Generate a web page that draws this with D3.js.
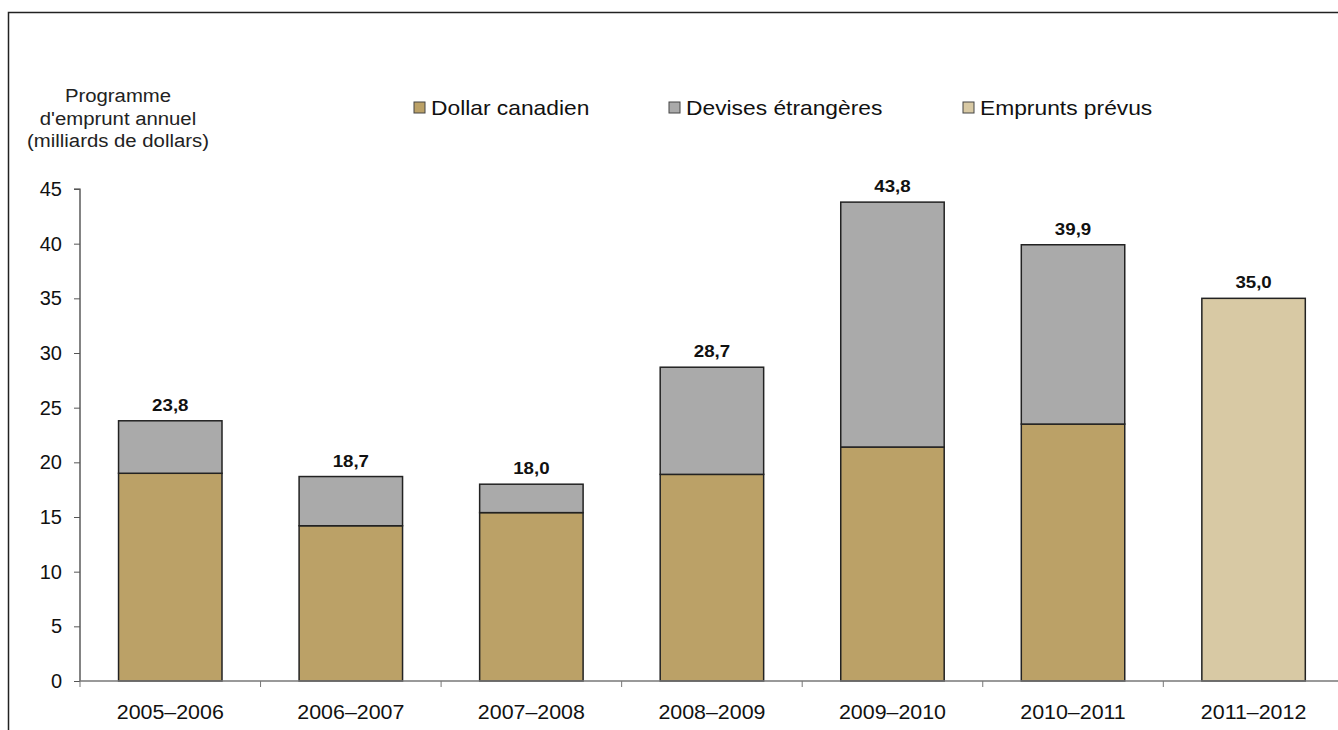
<!DOCTYPE html>
<html><head><meta charset="utf-8">
<script src="https://cdn.jsdelivr.net/npm/d3@7"></script>
<style>body{margin:0;background:#fff}svg{display:block;font-family:"Liberation Sans",Arial,sans-serif}</style>
</head><body>
<script>
const categories = ["2005–2006","2006–2007","2007–2008","2008–2009","2009–2010","2010–2011","2011–2012"];
const canadianDollar = [19.0, 14.2, 15.4, 18.9, 21.4, 23.5, 0];
const foreignCurrency = [4.8, 4.5, 2.6, 9.8, 22.4, 16.4, 0];
const plannedBorrowing = [0, 0, 0, 0, 0, 0, 35.0];
const totalLabels = ["23,8","18,7","18,0","28,7","43,8","39,9","35,0"];
const yTicks = [0,5,10,15,20,25,30,35,40,45];
const seriesNames = ["Dollar canadien","Devises étrangères","Emprunts prévus"];
const colors = ["#BBA167","#AAAAAA","#D8C9A4"];

const W = 1338, H = 730;
const svg = d3.select("body").append("svg").attr("width", W).attr("height", H);
svg.append("rect").attr("width", W).attr("height", H).attr("fill", "#fff");

// frame
svg.append("path").attr("d", `M8.5,${H} V12.5 H${W}`).attr("fill","none").attr("stroke","#222").attr("stroke-width",1.5);

const x0 = 80, step = 180.55;
const x = d3.scaleBand().domain(categories).range([x0, x0 + step*categories.length]).padding(0);
const y = d3.scaleLinear().domain([0,45]).range([681,189]);
const bw = x.bandwidth()*0.573;

const stacks = categories.map((c,i)=>{
  const segs = [];
  let base = 0;
  [canadianDollar[i], foreignCurrency[i], plannedBorrowing[i]].forEach((v,k)=>{
    if (v>0){ segs.push({c, k, y0:base, y1:base+v}); base += v; }
  });
  return {c, segs, total: base, label: totalLabels[i]};
});

// bars
const g = svg.append("g");
stacks.forEach(s=>{
  g.selectAll(null).data(s.segs).enter().append("rect")
    .attr("x", x(s.c) + (x.bandwidth()-bw)/2)
    .attr("width", bw)
    .attr("y", d=>y(d.y1))
    .attr("height", d=>y(d.y0)-y(d.y1))
    .attr("fill", d=>colors[d.k])
    .attr("stroke", "#222").attr("stroke-width", 1.5);
});

// value labels
svg.selectAll(".vl").data(stacks).enter().append("text")
  .attr("transform", d=>`translate(${x(d.c)+x.bandwidth()/2},${y(d.total)-10}) scale(1.1,1)`)
  .attr("text-anchor","middle").attr("font-weight","bold").attr("font-size",17).attr("fill","#111")
  .text(d=>d.label);

// y axis
const yAxis = d3.axisLeft(y).tickValues(yTicks).tickSize(6).tickPadding(12).tickFormat(d3.format("d"));
const ya = svg.append("g").attr("transform",`translate(${x0},0)`).call(yAxis);
ya.select(".domain").attr("stroke","#333").attr("stroke-width",1.2).attr("d",`M-6,${y(45)}H0V${y(0)}`);
ya.selectAll(".tick line").attr("stroke","#555");
ya.selectAll(".tick text").attr("font-size",20).attr("fill","#111").attr("font-family","Liberation Sans, Arial, sans-serif");

// x axis
const xa = svg.append("g").attr("transform",`translate(0,${y(0)})`);
xa.append("line").attr("x1",x0).attr("x2",W).attr("y1",0).attr("y2",0).attr("stroke","#777").attr("stroke-width",1.5);
const bounds = d3.range(categories.length+1).map(i=>x0 + i*x.step());
xa.selectAll(".xt").data(bounds).enter().append("line")
  .attr("x1",d=>d).attr("x2",d=>d).attr("y1",0).attr("y2",6).attr("stroke","#777");
xa.selectAll(".xl").data(categories).enter().append("text")
  .attr("transform",d=>`translate(${x(d)+x.bandwidth()/2},38) scale(1.07,1)`)
  .attr("text-anchor","middle").attr("font-size",20).attr("fill","#111").text(d=>d);

// axis title
const tl = ["Programme","d'emprunt annuel","(milliards de dollars)"];
svg.selectAll(".at").data(tl).enter().append("text")
  .attr("transform",(d,i)=>`translate(118,${102+i*22.5}) scale(1.13,1)`).attr("text-anchor","middle")
  .attr("font-size",18).attr("fill","#222").text(d=>d);

// legend
const legX = [414, 669, 963];
const leg = svg.selectAll(".lg").data(seriesNames).enter().append("g")
  .attr("transform",(d,i)=>`translate(${legX[i]},102)`);
leg.append("rect").attr("width",11).attr("height",11).attr("fill",(d,i)=>colors[i]).attr("stroke","#444").attr("stroke-width",1);
leg.append("text").attr("transform","translate(17,13) scale(1.14,1)").attr("font-size",20).attr("fill","#111").text(d=>d);
</script>
</body></html>
